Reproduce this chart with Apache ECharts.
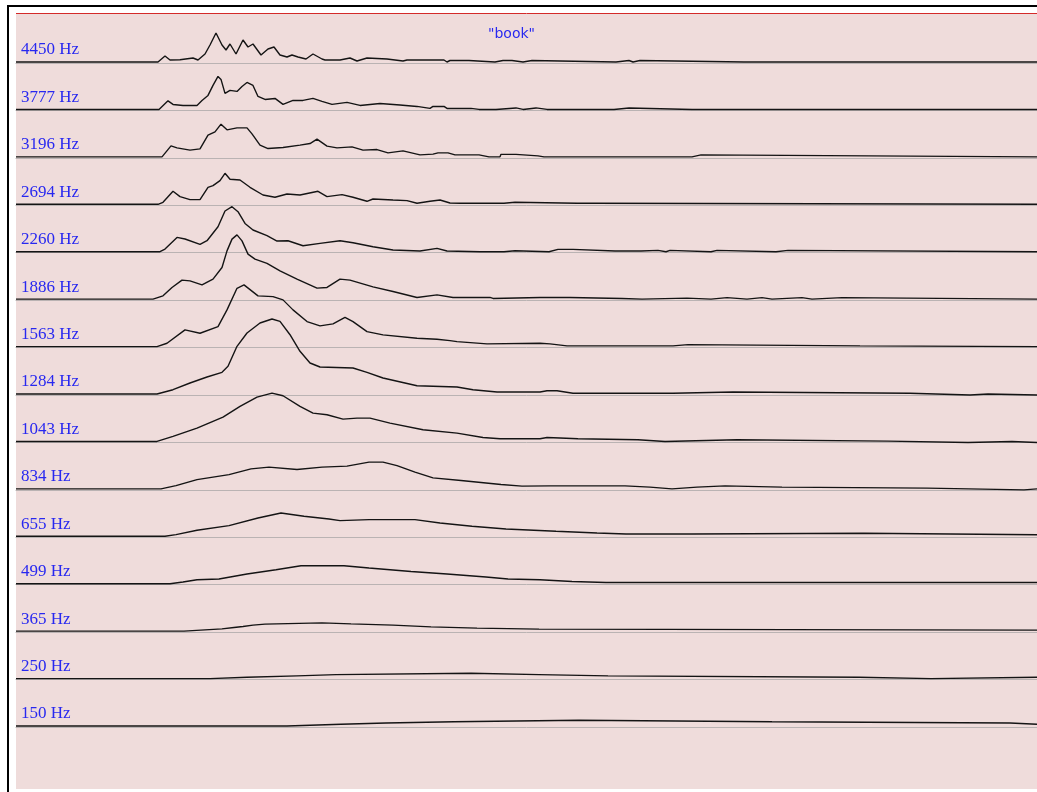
<!DOCTYPE html>
<html>
<head>
<meta charset="utf-8">
<title>"book" filter-bank envelopes</title>
<script src="https://cdn.jsdelivr.net/npm/echarts@6/dist/echarts.min.js"></script>
<style>
  html, body { margin: 0; padding: 0; background: #ffffff; }
  #chart { width: 1037px; height: 792px; }
</style>
</head>
<body>
<div id="chart"></div>
<script>
// Word shown above the channels
const wordLabel = '"book"';

// Channel centre frequencies, top to bottom
const channelLabels = ['4450 Hz', '3777 Hz', '3196 Hz', '2694 Hz', '2260 Hz', '1886 Hz', '1563 Hz',
  '1284 Hz', '1043 Hz', '834 Hz', '655 Hz', '499 Hz', '365 Hz', '250 Hz', '150 Hz'];

// Envelope of each channel: [frame, amplitude]
const env4450 = [[0,0],[142,0],[149,6],[154,2],[164,2.3],[177,4],[182,2],[189,8],[194,17],[200,29],[206,17],[210,12],[214,18],[220,8],[227,22],[232,15],[237,18],[245,7],[252,13],[258,15],[264,7],[271,5],[276,7],[282,5],[290,3],[297,8],[306,3],[309,2],[324,2],[334,4],[341,1],[351,4],[371,3],[387,1],[391,2],[404,2],[428,2],[431,0],[434,1.5],[453,1.5],[455,0],[479,0],[481,1.5],[487,1.5],[489,0],[491,1.5],[496,1.5],[498,0],[507,0],[508,1.5],[516,1.5],[518,0],[600,0],[601,1.5],[613,1.5],[615,0],[617,0],[618,1.5],[624,1.5],[626,0],[728,0],[730,1.5],[732,0],[1021,0]];
const env3777 = [[0,0],[143,0],[152,8.6],[157,5],[167,4],[181,4],[186,9],[192,14],[197,24],[202,33],[205,30],[209,16],[214,19],[221,18],[226,23],[231,27],[237,24],[242,13],[249,10],[259,11],[267,5],[277,9],[287,9],[297,11],[306,8],[316,5],[331,7],[344,4],[364,6],[384,4.5],[401,3],[414,1],[417,3],[428,3],[431,1],[449,1],[451,2.5],[455,1],[463,0],[480,0],[481,1.5],[500,1.5],[502,0],[507,0],[508,1.5],[520,1.5],[522,0],[531,0],[532,1.5],[533,0],[543,0],[544,1.5],[545,0],[598,0],[599,1.5],[613,1.5],[615,0],[676,0],[677,1.5],[679,0],[732,0],[733,1.5],[735,0],[1021,0]];
const env3196 = [[0,0],[146,0],[155,11],[161,9],[174,6.7],[184,8],[192,21.7],[199,25],[205,32.7],[211,27],[221,29],[231,29],[236,23],[244,11.7],[252,8.3],[267,9.3],[284,11.7],[294,13.3],[301,17.7],[311,10.7],[321,9],[336,10],[347,6.7],[361,7.3],[372,4],[387,6],[404,2],[417,2.7],[422,4],[432,4],[439,2],[463,2],[473,0],[484,0],[485,2.5],[500,2.5],[502,1],[522,1],[528,0],[534,0],[536,1],[540,0],[676,0],[677,2],[685,2],[687,0],[1021,0]];
const env2694 = [[0,0],[142,0],[147,2],[157,13],[164,7.7],[174,4.7],[184,4.7],[192,17],[197,18.7],[204,23.7],[209,31],[214,25],[224,24.3],[234,17],[247,9.3],[259,7],[271,10.3],[284,9.3],[302,13],[311,7.7],[326,9.7],[337,7],[351,3],[357,5.3],[377,4.3],[391,3.7],[401,1],[414,3],[424,4.3],[434,1.3],[444,1],[488,1],[489,2],[499,2],[501,1],[561,1],[563,0],[567,1],[577,1],[579,0],[1021,0]];
const env2260 = [[0,0],[144,0],[149,2.7],[161,14.3],[169,12.7],[184,7.3],[191,11],[202,25],[209,40.7],[216,45],[222,40],[229,28.3],[237,21.7],[251,16],[261,10.7],[272,11],[287,6],[304,8.3],[324,11],[337,9],[357,5],[377,1.7],[404,0.7],[421,3.3],[431,0.7],[464,0],[488,0],[489,1],[499,1],[501,0],[533,0],[534,1],[542,2.3],[557,2.3],[599,0.7],[625,0.7],[626,1.3],[642,1.3],[644,0],[650,0],[651,1.3],[654,1.3],[656,0],[695,0],[696,1.3],[701,1.3],[703,0],[760,0],[761,1.3],[772,1.3],[774,0],[1021,0]];
const env1886 = [[0,0],[137,0],[147,3.3],[156,11.7],[166,19],[174,18.3],[186,14.3],[197,20],[206,31.7],[211,48.3],[216,60],[221,64.3],[226,58.3],[232,45],[239,40],[251,35.7],[264,28.3],[281,20],[301,11],[311,11.7],[324,20],[334,19],[357,12.3],[377,7.7],[401,1.7],[421,4.3],[437,1.7],[474,1.7],[477,0.7],[524,1.7],[554,1.7],[556,0.7],[606,0.7],[607,0],[626,0],[627,1],[671,1],[673,0],[695,0],[696,1.5],[711,1.5],[713,0],[731,0],[732,1.5],[746,1.5],[748,0],[756,0],[757,1.5],[786,1.5],[788,0],[796,0],[797,1.5],[826,1.5],[828,0],[1021,0]];
const env1563 = [[0,0],[141,0],[151,3.3],[169,16.7],[184,13.3],[202,20],[211,36.7],[221,58.3],[228,61.7],[242,50.7],[257,50],[267,46.7],[277,36.7],[291,25],[304,20.7],[317,22.7],[329,29.3],[337,25],[351,15],[367,11.7],[401,8.3],[421,7.3],[434,6],[441,5],[471,2.7],[524,3.3],[534,2.7],[551,0.7],[657,0.7],[658,2],[672,2],[674,0.7],[844,0.7],[846,0],[1021,0]];
const env1284 = [[0,0],[141,0],[157,4.3],[174,11],[191,17],[206,21.7],[212,27.7],[221,47.7],[231,61],[244,71],[256,75],[264,72.7],[274,59.3],[284,42.7],[294,31],[304,27],[337,26],[351,21.7],[367,16],[401,8.3],[441,7],[457,4.3],[481,2],[524,2],[531,3.3],[541,3.3],[557,0.7],[657,0.7],[659,2],[717,2],[719,0.7],[894,0.7],[896,-1],[954,-1],[956,0],[972,0],[974,-1],[1021,-1]];
const env1043 = [[0,0],[141,0],[157,5],[181,13.3],[207,24.3],[224,35],[241,44.3],[256,48.3],[267,45.7],[284,35],[297,28.3],[311,26.7],[327,22.3],[341,23.3],[354,23.3],[374,18.3],[407,11.7],[441,8.3],[467,4],[484,2.7],[524,2.7],[531,4],[544,3.5],[562,2.7],[564,1.7],[622,1.7],[624,0],[649,0],[651,1.7],[721,1.7],[722,0.3],[872,0.3],[874,-1],[952,-1],[954,0],[996,0],[997,-1],[1021,-1]];
const env834 = [[0,0],[145,0],[160,3.3],[181,9.3],[213,14.3],[235,20],[253,21.7],[281,19.3],[306,21.7],[331,22.7],[353,26.7],[367,26.7],[381,23.3],[399,16.7],[417,11],[445,8.3],[485,4.3],[506,2.7],[534,3],[609,3],[611,1.7],[634,1.7],[636,0],[656,0],[658,1.7],[681,1.7],[683,3],[709,3],[711,1.7],[766,1.7],[768,0.7],[911,0.7],[913,-1],[1008,-1],[1010,0],[1021,0]];
const env655 = [[0,0],[149,0],[160,1.7],[181,6],[213,10.7],[242,18.3],[265,23.3],[288,20],[313,17.3],[324,15.7],[353,16.7],[399,16.7],[424,13.3],[456,10],[490,7.3],[540,5],[581,3.3],[610,2.3],[676,2.3],[678,3],[848,3],[850,1.5],[1021,1.5]];
const env499 = [[0,0],[154,0],[167,1.7],[181,4],[203,4.7],[231,9.7],[260,14],[285,18],[328,18],[353,15.7],[374,14],[395,12.3],[431,9.7],[470,6.7],[492,4.7],[524,4],[556,2.3],[590,1.3],[1021,1.3]];
const env365 = [[0,0],[168,1.3],[189,2.3],[206,3.7],[218,4.7],[227,6],[237,7],[249,8.3],[306,7.3],[335,6],[377,4.3],[415,3],[461,2],[523,1],[1021,1]];
const env250 = [[0,0],[194,1.3],[231,2.7],[281,4],[320,5.3],[455,4],[523,2.7],[592,1.3],[843,0],[915,1.3],[1021,1.3]];
const env150 = [[0,0],[271,1.7],[325,3],[370,4.3],[438,5.7],[563,4.3],[756,3],[994,1.7],[1021,1.7]];

const channels = [env4450, env3777, env3196, env2694, env2260, env1886, env1563,
  env1284, env1043, env834, env655, env499, env365, env250, env150];

// Frame range shown across the width
const frameMin = 0;
const frameMax = 1021;

// ---- layout ----
const panelLeft = 16, panelTop = 14, panelRight = 1037, panelBottom = 789;
const firstBaseline = 62;
const rowStep = 47.43;
const rowHeight = 40;          // amplitude units per row (1 unit = 1 px)
const steppedFrom = 12;        // lowest channels drawn as staircases
const textBlue = '#2828f0';

const grids = [], xAxes = [], yAxes = [], series = [], labels = [];
channels.forEach((data, i) => {
  const base = firstBaseline + i * rowStep;
  grids.push({ left: panelLeft, right: 0, top: base - rowHeight, height: rowHeight });
  xAxes.push({
    type: 'value', gridIndex: i, min: frameMin, max: frameMax, offset: 1,
    axisLine: { show: true, onZero: false, lineStyle: { color: '#bab3b3', width: 1 } },
    axisTick: { show: false }, axisLabel: { show: false }, splitLine: { show: false }
  });
  yAxes.push({ type: 'value', gridIndex: i, min: 0, max: rowHeight, show: false });
  series.push({
    type: 'line', name: channelLabels[i], xAxisIndex: i, yAxisIndex: i,
    data: data, showSymbol: false, clip: false, silent: true,
    step: i >= steppedFrom ? 'end' : false,
    lineStyle: { color: '#141414', width: 1.4 }
  });
  labels.push({
    type: 'text', x: 21, y: base - 12, z: 10,
    style: { text: channelLabels[i], fill: textBlue, font: '17px "Liberation Serif"',
             textVerticalAlign: 'middle' }
  });
});

const chart = echarts.init(document.getElementById('chart'), null, { renderer: 'canvas' });
chart.setOption({
  animation: false,
  backgroundColor: '#ffffff',
  title: {
    text: wordLabel, left: 488, top: 27, padding: 0,
    textStyle: { fontFamily: 'DejaVu Sans', fontSize: 14, fontWeight: 'normal', color: textBlue }
  },
  grid: grids,
  xAxis: xAxes,
  yAxis: yAxes,
  series: series,
  graphic: [
    { type: 'rect', z: -10, shape: { x: panelLeft, y: panelTop, width: panelRight - panelLeft, height: panelBottom - panelTop },
      style: { fill: '#efdcdb' } },
    { type: 'rect', z: -5, shape: { x: 7, y: 5, width: 1030, height: 2 }, style: { fill: '#000000' } },
    { type: 'rect', z: -5, shape: { x: 7, y: 5, width: 2, height: 787 }, style: { fill: '#000000' } },
    { type: 'line', z: -5, shape: { x1: panelLeft, y1: 13.5, x2: panelRight, y2: 13.5 },
      style: { stroke: '#d42a2a', lineWidth: 1 } }
  ].concat(labels)
});
</script>
</body>
</html>
